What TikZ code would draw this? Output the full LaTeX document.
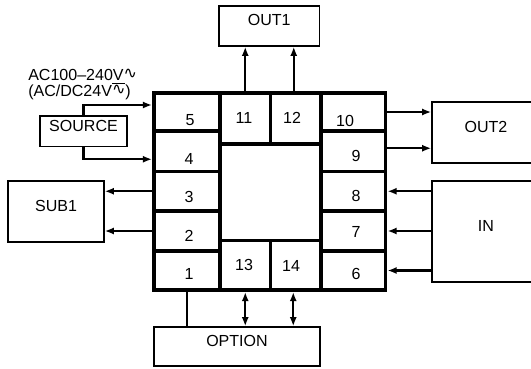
\documentclass[tikz,border=0pt]{standalone}
\usepackage{fontspec}
\setmainfont{Liberation Sans}
\newfontfamily\wavefont{DejaVu Sans}
\usetikzlibrary{arrows.meta,fit,positioning}

\tikzset{
	cell/.style={draw,line width=2.8pt,inner sep=0pt},
	unit/.style={draw,line width=1pt,inner sep=0pt},
	wire/.style={line width=1.5pt},
	num/.style={inner sep=0pt}
}

\begin{document}
\begin{tikzpicture}[x=0.025cm,y=-0.025cm,>={Latex[length=6.5pt,width=5pt]},font=\fontsize{11.4}{13}\selectfont]
	\useasboundingbox (0,0) rectangle (531,368);
	% terminal block
	\node[cell,fit={(154,93) (220,131)}] (c5) {};
	\node[cell,fit={(154,131) (220,171.5)}] (c4) {};
	\node[cell,fit={(154,171.5) (220,211)}] (c3) {};
	\node[cell,fit={(154,211) (220,251)}] (c2) {};
	\node[cell,fit={(154,251) (220,290)}] (c1) {};
	\node[cell,fit={(321,93) (385.5,131)}] (c10) {};
	\node[cell,fit={(321,131) (385.5,171.5)}] (c9) {};
	\node[cell,fit={(321,171.5) (385.5,211)}] (c8) {};
	\node[cell,fit={(321,211) (385.5,251)}] (c7) {};
	\node[cell,fit={(321,251) (385.5,290)}] (c6) {};
	\node[cell,fit={(220,93) (270.5,144)}] (c11) {};
	\node[cell,fit={(270.5,93) (321,144)}] (c12) {};
	\node[cell,fit={(220,240.5) (270.5,290)}] (c13) {};
	\node[cell,fit={(270.5,240.5) (321,290)}] (c14) {};
	\node[num] (n5) at (190,120) {5};
	\node[num] (n4) at (189,159) {4};
	\node[num] (n3) at (189,197) {3};
	\node[num] (n2) at (189,236) {2};
	\node[num] (n1) at (189,274) {1};
	\node[num] (n11) at (244,118) {11};
	\node[num] (n12) at (292,118) {12};
	\node[num] (n10) at (345,121) {10};
	\node[num] (n9) at (356,156) {9};
	\node[num] (n8) at (356,196) {8};
	\node[num] (n7) at (356,232) {7};
	\node[num] (n6) at (356,274) {6};
	\node[num] (n13) at (244,265) {13};
	\node[num] (n14) at (291,266) {14};
	% outer units
	\node[unit,fit={(219,6) (319.5,46)}] (out1) {OUT1};
	\node[unit,fit={(432,102) (540,163)}] (out2) {OUT2};
	\node[unit,fit={(432,181) (540,282)}] (in) {IN};
	\node[unit,fit={(8,181) (104,242)}] (sub1) {SUB1};
	\node[unit,fit={(40,116) (127,146.5)}] (src) {SOURCE};
	\node[unit,fit={(154,327) (320,366)}] (opt) {OPTION};
	\node[num,anchor=north west,align=left,font=\fontsize{11.4}{10.2}\selectfont] (volt) at (28,69)
		{AC100--240V\raisebox{1.5pt}{\wavefont ∿}\\(AC/DC24V\raisebox{1.5pt}{$\overline{\hbox{\wavefont ∿}}$})};
	% wiring
	\draw[wire,->] (src.north) |- ([shift={(0,-7)}]c5.west);
	\draw[wire,->] (src.south) |- ([shift={(0,8)}]c4.west);
	\draw[wire,->] (c3.west) -- (c3.west -| sub1.east);
	\draw[wire,->] (c2.west) -- (c2.west -| sub1.east);
	\draw[wire,->] (c10.east) -- (c10.east -| out2.west);
	\draw[wire,->] ([shift={(0,-3)}]c9.east) -- ([shift={(0,-3)}]c9.east -| out2.west);
	\draw[wire,->] (c8.east -| in.west) -- (c8.east);
	\draw[wire,->] (c7.east -| in.west) -- (c7.east);
	\draw[wire,->] (c6.east -| in.west) -- (c6.east);
	\draw[wire,->] (c11.north) -- (c11.north |- out1.south);
	\draw[wire,->] ([shift={(-2,0)}]c12.north) -- ([shift={(-2,0)}]c12.north |- out1.south);
	\draw[wire] (c1.south) -- (c1.south |- opt.north);
	\draw[wire,<->] (c13.south) -- (c13.south |- opt.north);
	\draw[wire,<->] ([shift={(-2.5,0)}]c14.south) -- ([shift={(-2.5,0)}]c14.south |- opt.north);
\end{tikzpicture}
\end{document}
